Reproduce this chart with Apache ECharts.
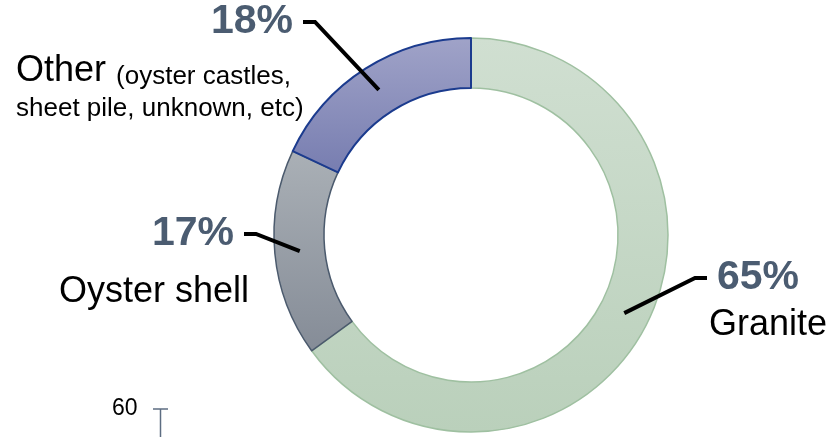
<!DOCTYPE html>
<html>
<head>
<meta charset="utf-8">
<script src="https://cdn.jsdelivr.net/npm/echarts@6/dist/echarts.min.js"></script>
<style>
  html, body { margin: 0; padding: 0; background: #ffffff; }
  #chart { width: 839px; height: 437px; }
</style>
</head>
<body>
<div id="chart"></div>
<script>
// Living shoreline material mix (share of total, %)
const categories = ['Granite', 'Oyster shell', 'Other'];
const shares = [65, 17, 18];
const categoryNotes = ['', '', ['(oyster castles,', 'sheet pile, unknown, etc)']];
const scaleTickLabels = ['60'];

const FONT = '"Liberation Sans", Arial, Helvetica, sans-serif';
const CENTER = [471, 235];
const RING = [147, 197];
const ANCHOR_R = (RING[0] + RING[1]) / 2;

const sliceStyles = {
  'Granite':      { top: '#d0dfd1', bottom: '#bad0bb', border: '#9fc0a1', width: 1.5 },
  'Oyster shell': { top: '#aab0b6', bottom: '#858c97', border: '#4b5a6d', width: 1.5 },
  'Other':        { top: '#a0a3c8', bottom: '#777db0', border: '#1b3b8e', width: 2 }
};

// caption placement (px) for the percentage callouts and the category names
const pctPlacement = {
  'Granite':      { x: 707, y: 278,  align: 'left' },
  'Oyster shell': { x: 244, y: 234,  align: 'right' },
  'Other':        { x: 303, y: 22,   align: 'right' }
};
const namePlacement = {
  'Granite':      { x: 709, y: 325.5, align: 'left', verticalAlign: 'middle' },
  'Oyster shell': { x: 59,  y: 292.5, align: 'left', verticalAlign: 'middle' },
  'Other':        { x: 16,  y: 53.5,  align: 'left', verticalAlign: 'top' }
};

const ringData = categories.map((name, i) => {
  const s = sliceStyles[name];
  return {
    name: name,
    value: shares[i],
    itemStyle: {
      color: {
        type: 'linear', x: 0, y: 0, x2: 0, y2: 1,
        colorStops: [{ offset: 0, color: s.top }, { offset: 1, color: s.bottom }]
      },
      borderColor: s.border,
      borderWidth: s.width
    }
  };
});

const hiddenData = categories.map((name, i) => ({ name: name, value: shares[i] }));

function nameFormatter(p) {
  const note = categoryNotes[p.dataIndex];
  if (!note || !note.length) return p.name;
  return '{big|' + p.name + ' }{small|' + note[0] + '}' +
    note.slice(1).map(t => '\n{small|' + t + '}').join('');
}

const chart = echarts.init(document.getElementById('chart'), null, { renderer: 'canvas' });

chart.setOption({
  animation: false,
  backgroundColor: '#ffffff',
  series: [
    {
      // the donut ring
      type: 'pie',
      name: 'ring',
      center: CENTER,
      radius: RING,
      startAngle: 90,
      clockwise: true,
      silent: true,
      avoidLabelOverlap: false,
      label: { show: false },
      labelLine: { show: false },
      emphasis: { disabled: true },
      data: ringData,
      z: 2
    },
    {
      // percentage callouts with leader lines anchored mid-band
      type: 'pie',
      name: 'percent',
      center: CENTER,
      radius: [0, ANCHOR_R],
      startAngle: 90,
      clockwise: true,
      silent: true,
      avoidLabelOverlap: false,
      itemStyle: { color: 'rgba(0,0,0,0)', borderWidth: 0 },
      emphasis: { disabled: true },
      label: {
        show: true,
        position: 'outside',
        formatter: '{c}%',
        fontFamily: FONT,
        fontSize: 41,
        fontWeight: 'bold',
        color: '#4b5c71',
        padding: [4, 10, 0, 10],
        backgroundColor: 'rgba(0,0,0,0)'
      },
      labelLine: {
        show: true,
        length: 10,
        length2: 12,
        smooth: false,
        minTurnAngle: 0,
        lineStyle: { color: '#000000', width: 4, opacity: 1, cap: 'butt', join: 'miter' }
      },
      labelLayout: function (params) {
        const p = pctPlacement[categories[params.dataIndex]];
        return { x: p.x, y: p.y, align: p.align, verticalAlign: 'middle' };
      },
      data: hiddenData,
      z: 3
    },
    {
      // category names
      type: 'pie',
      name: 'names',
      center: CENTER,
      radius: [0, ANCHOR_R],
      startAngle: 90,
      clockwise: true,
      silent: true,
      avoidLabelOverlap: false,
      itemStyle: { color: 'rgba(0,0,0,0)', borderWidth: 0 },
      emphasis: { disabled: true },
      label: {
        show: true,
        position: 'outside',
        formatter: nameFormatter,
        fontFamily: FONT,
        fontSize: 36,
        color: '#000000',
        rich: {
          big:   { fontFamily: FONT, fontSize: 36, lineHeight: 36, color: '#000000', verticalAlign: 'bottom' },
          small: { fontFamily: FONT, fontSize: 26, lineHeight: 32, color: '#000000', verticalAlign: 'bottom' }
        }
      },
      labelLine: { show: false },
      labelLayout: function (params) {
        const p = namePlacement[categories[params.dataIndex]];
        return { x: p.x, y: p.y, align: p.align, verticalAlign: p.verticalAlign };
      },
      data: hiddenData,
      z: 3
    }
  ],
  graphic: [
    {
      type: 'text',
      x: 112,
      y: 397,
      style: {
        text: scaleTickLabels[0],
        fontFamily: 'Liberation Sans',
        fontSize: 23,
        fill: '#000000'
      }
    },
    {
      type: 'line',
      shape: { x1: 153, y1: 409, x2: 168, y2: 409 },
      style: { stroke: '#5d6d82', lineWidth: 1.5 }
    },
    {
      type: 'line',
      shape: { x1: 160.5, y1: 409, x2: 160.5, y2: 437 },
      style: { stroke: '#5d6d82', lineWidth: 1.5 }
    }
  ]
});
</script>
</body>
</html>
